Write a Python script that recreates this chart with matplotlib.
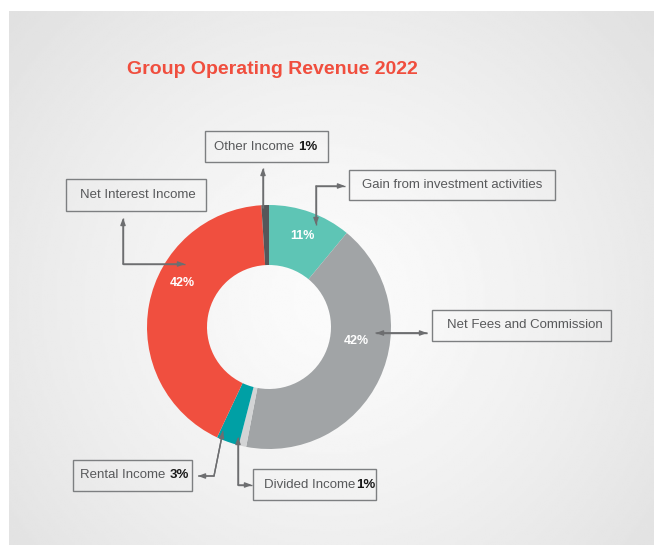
import numpy as np
import matplotlib.pyplot as plt
from matplotlib.patches import Rectangle

# data, clockwise from 12 o'clock
categories = ['Gain from investment activities', 'Net Fees and Commission',
              'Divided Income', 'Rental Income', 'Net Interest Income',
              'Other Income']
shares = [11, 42, 1, 3, 42, 1]
colors = ['#5ec5b5', '#a1a4a6', '#d3d4d5', '#00a0a5', '#f04f3f', '#55575a']
inside_labels = ['11%', '42%', None, None, '42%', None]
box_pct = ['', '', '1%', '3%', '', '1%']

W, H = 654, 545
CX, CY = 269, 327          # donut centre, px from top
R_OUT, R_IN = 122, 62


def Y(y):
    # picture px (from top) -> axes coords
    return H - y


fig = plt.figure(figsize=(W / 100, H / 100), dpi=100)
ax = fig.add_axes([0, 0, 1, 1])
ax.axis('off')
plt.rcParams['font.family'] = ['Liberation Sans', 'DejaVu Sans']

# soft radial grey background panel
gx, gy = np.meshgrid(np.linspace(9, W, 300), np.linspace(11, H, 250))
dist = np.hypot(gx - 330, gy - 300) / 380
shade = np.clip(0.985 - 0.09 * dist ** 1.3, 0.88, 1)
ax.imshow(shade, cmap='gray', vmin=0, vmax=1, extent=(9, W, Y(H), Y(11)),
          zorder=0, aspect='auto', interpolation='bilinear')

ax.text(272, Y(70), 'Group Operating Revenue 2022', color='#f04e3e',
        fontsize=14, fontweight='bold', ha='center', va='center')

wedges, _ = ax.pie(shares, colors=colors, startangle=90, counterclock=False,
                   radius=R_OUT, center=(CX, Y(CY)),
                   wedgeprops=dict(width=R_OUT - R_IN, linewidth=0))
ax.set_xlim(0, W)
ax.set_ylim(0, H)
ax.set_aspect('auto')

# inside percentage labels (angle in degrees, radius in px)
label_pos = {0: (70, 97), 1: (-9, 88), 4: (153, 97)}
for i, (ang, r) in label_pos.items():
    a = np.deg2rad(ang)
    ax.text(CX + r * np.cos(a), Y(CY) + r * np.sin(a), inside_labels[i],
            color='white', fontsize=9, fontweight='bold',
            ha='center', va='center')

# label boxes: (x0, y0, x1, y1) in px from top, text start x
boxes = {
    0: (349, 170, 555, 200, 362),
    1: (432, 310, 611, 341, 447),
    2: (253, 469, 376, 500, 264),
    3: (73, 460, 192, 491, 80),
    4: (66, 179, 206, 211, 80),
    5: (205, 131, 328, 162, 214),
}
text_col = '#58595b'
line_col = '#6d6e70'
for i, (x0, y0, x1, y1, tx) in boxes.items():
    ax.add_patch(Rectangle((x0, Y(y1)), x1 - x0, y1 - y0, fill=False,
                           edgecolor='#7d7f81', linewidth=1, zorder=3))
    t = ax.text(tx, Y((y0 + y1) / 2), categories[i],
                color=text_col, fontsize=9.5, ha='left', va='center')
    if box_pct[i]:
        gap = 1 if i == 2 else 4
        ax.annotate(box_pct[i], xy=(1, 0.5), xycoords=t, va='center',
                    xytext=(gap, 0), textcoords='offset pixels',
                    ha='left', fontsize=9.5, fontweight='bold', color='#1a1a1a')

# leader lines: polyline points (px from top), arrow head at which ends
leaders = [
    ([(316, 225), (316, 186), (345, 186)], (True, True)),
    ([(376, 333), (427, 333)], (True, True)),
    ([(238, 437), (238, 485), (252, 485)], (True, True)),
    ([(223, 431), (214, 476), (198, 476)], (True, True)),
    ([(123, 218), (123, 264), (185, 264)], (True, True)),
    ([(263, 208), (263, 168)], (False, True)),
]
head = dict(arrowstyle='-|>,head_length=0.4,head_width=0.15',
            color=line_col, lw=1, shrinkA=0, shrinkB=0)
for pts, (start_head, end_head) in leaders:
    xs = [p[0] for p in pts]
    ys = [Y(p[1]) for p in pts]
    ax.plot(xs, ys, color=line_col, lw=1, zorder=4, solid_capstyle='butt')
    if start_head:
        ax.annotate('', xy=(xs[0], ys[0]), xytext=(xs[1], ys[1]),
                    arrowprops=head, zorder=4)
    if end_head:
        ax.annotate('', xy=(xs[-1], ys[-1]), xytext=(xs[-2], ys[-2]),
                    arrowprops=head, zorder=4)

fig.savefig('out.png', dpi=100, facecolor='white')
